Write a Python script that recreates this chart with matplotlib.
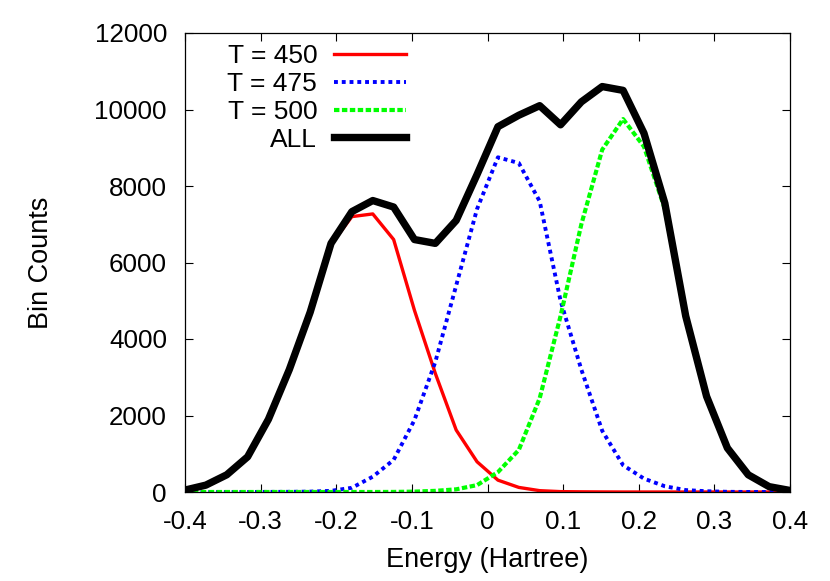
import matplotlib
matplotlib.use("Agg")
import matplotlib.pyplot as plt

plt.rcParams['font.family'] = ['Liberation Sans', 'DejaVu Sans']
plt.rcParams['axes.unicode_minus'] = False

energy = [-0.4, -0.3724, -0.3448, -0.3172, -0.2897, -0.2621, -0.2345, -0.2069,
          -0.1793, -0.1517, -0.1241, -0.0966, -0.0690, -0.0414, -0.0138, 0.0138,
          0.0414, 0.0690, 0.0966, 0.1241, 0.1517, 0.1793, 0.2069, 0.2345,
          0.2621, 0.2897, 0.3172, 0.3448, 0.3724, 0.4]

t450 = [50, 180, 450, 920, 1900, 3200, 4690, 6470, 7200, 7270, 6600, 4750,
        3100, 1620, 790, 310, 120, 35, 10, 5, 2, 0, 0, 0, 0, 0, 0, 0, 0, 0]
t475 = [0, 0, 0, 1, 3, 5, 10, 30, 110, 400, 840, 1880, 3400, 5400, 7400, 8750,
        8600, 7600, 5000, 3200, 1600, 700, 350, 150, 50, 20, 5, 1, 0, 0]
t500 = [0, 0, 0, 0, 0, 0, 0, 0, 0, 0, 2, 10, 30, 70, 180, 520, 1100, 2450,
        4600, 7000, 8950, 9750, 9030, 7400, 4550, 2480, 1145, 450, 140, 40]
t_all = [50, 180, 450, 920, 1900, 3200, 4700, 6500, 7330, 7620, 7450, 6600,
         6500, 7100, 8300, 9550, 9850, 10100, 9600, 10200, 10600, 10500, 9380,
         7550, 4600, 2500, 1150, 450, 140, 40]

series_labels = ['T = 450', 'T = 475', 'T = 500', 'ALL']
xticks = [-0.4, -0.3, -0.2, -0.1, 0.0, 0.1, 0.2, 0.3, 0.4]
xtick_labels = ['-0.4', '-0.3', '-0.2', '-0.1', '0', '0.1', '0.2', '0.3', '0.4']
yticks = [0, 2000, 4000, 6000, 8000, 10000, 12000]
ytick_labels = ['0', '2000', '4000', '6000', '8000', '10000', '12000']

fig = plt.figure(figsize=(8.3, 5.81), dpi=100)
ax = fig.add_axes([185/830, 89/581, 605/830, 459/581])

ax.plot(energy, t450, color='#ff0000', lw=2.4, label=series_labels[0])
ax.plot(energy, t475, color='#0000ff', lw=2.8, linestyle=(0, (1.0, 1.0)),
        label=series_labels[1])
ax.plot(energy, t500, color='#00ff00', lw=3.0, linestyle=(0, (1.3, 0.6)),
        label=series_labels[2])
ax.plot(energy, t_all, color='black', lw=5.3, label=series_labels[3])

ax.set_xlim(-0.4, 0.4)
ax.set_ylim(0, 12000)
ax.set_xticks(xticks)
ax.set_xticklabels(xtick_labels)
ax.set_yticks(yticks)
ax.set_yticklabels(ytick_labels)
ax.tick_params(direction='in', length=6, width=0.8, top=True, right=True,
               labelsize=18.7, color='black')
ax.tick_params(axis='y', pad=13)
ax.tick_params(axis='x', pad=13)
for s in ax.spines.values():
    s.set_linewidth(0.9)

ax.set_xlabel('Energy (Hartree)', fontsize=19.5, labelpad=9)
ax.set_ylabel('Bin Counts', fontsize=19.5, labelpad=29)

leg = ax.legend(loc='upper right', bbox_to_anchor=(0.3655, 0.975),
                frameon=False, fontsize=19, markerfirst=False,
                handlelength=2.75, handletextpad=0.62, labelspacing=0.14,
                borderpad=0, borderaxespad=0)
for col in leg._legend_handle_box.get_children():
    col.align = 'right'

fig.savefig('out.png', dpi=100)
